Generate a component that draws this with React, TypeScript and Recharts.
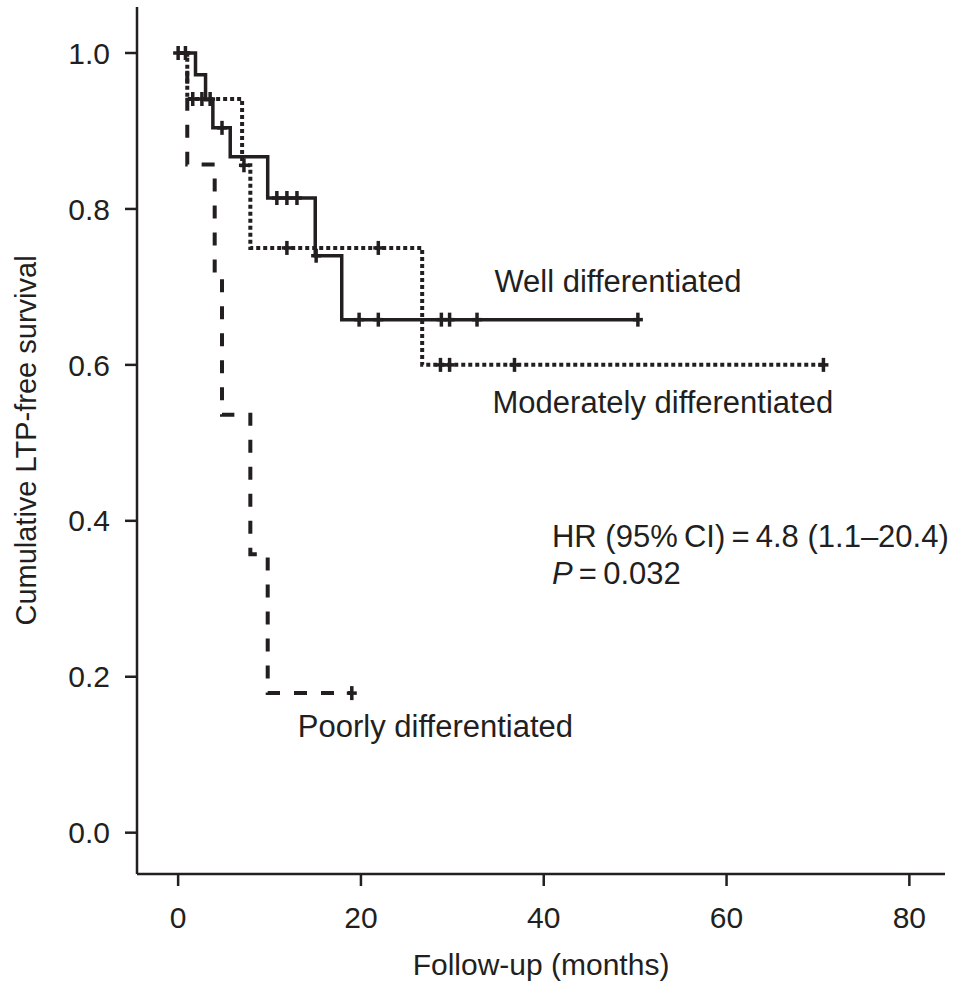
import React from 'react';
import {
  ComposedChart,
  Line,
  Scatter,
  XAxis,
  YAxis,
  ReferenceDot,
} from 'recharts';

const INK = '#231f20';
const FONT = '"Liberation Sans", Arial, Helvetica, sans-serif';

// Kaplan-Meier steps: month of each drop and survival right after it
const wellTimes = [0, 1.9, 3.0, 3.8, 5.7, 9.8, 15.0, 17.9, 50.3];
const wellSurv = [1.0, 0.972, 0.94, 0.904, 0.867, 0.814, 0.74, 0.658, 0.658];
const wellCensored = [0.0, 0.8, 4.8, 10.8, 11.9, 13.0, 15.1, 19.8, 21.9, 28.8, 29.7, 32.7, 50.3];

const modTimes = [0, 1.0, 7.0, 7.9, 26.7, 70.6];
const modSurv = [1.0, 0.941, 0.856, 0.75, 0.6, 0.6];
const modCensored = [1.6, 2.6, 3.5, 7.2, 11.9, 21.9, 28.7, 29.7, 36.8, 70.6];

const poorTimes = [0, 1.0, 4.0, 4.8, 7.9, 9.8, 19.0];
const poorSurv = [1.0, 0.857, 0.714, 0.536, 0.357, 0.179, 0.179];
const poorCensored = [19.0];

const xTicks = [0, 20, 40, 60, 80];
const yTicks = [0, 0.2, 0.4, 0.6, 0.8, 1.0];

type Seg = { text: string; italic?: boolean };

const annotations: { key: string; t: number; s: number; lines: Seg[][] }[] = [
  { key: 'well', t: 34.6, s: 0.694, lines: [[{ text: 'Well differentiated' }]] },
  { key: 'mod', t: 34.4, s: 0.538, lines: [[{ text: 'Moderately differentiated' }]] },
  { key: 'poor', t: 13.1, s: 0.123, lines: [[{ text: 'Poorly differentiated' }]] },
  {
    key: 'hr',
    t: 40.9,
    s: 0.367,
    lines: [
      [{ text: 'HR (95%\u2009CI)\u2009=\u20094.8 (1.1\u201320.4)' }],
      [{ text: 'P', italic: true }, { text: '\u2009=\u20090.032' }],
    ],
  },
];

const toSteps = (times: number[], surv: number[]) =>
  times.map((t, i) => ({ t, s: surv[i] }));

// survival value of a curve at month t (for placing censor ticks on it)
const survivalAt = (times: number[], surv: number[], t: number) => {
  let v = surv[0];
  times.forEach((tt, i) => {
    if (tt <= t) v = surv[i];
  });
  return v;
};

const toCensors = (cens: number[], times: number[], surv: number[]) =>
  cens.map((t) => ({ t, s: survivalAt(times, surv, t) }));

const series = [
  {
    name: 'Well differentiated',
    steps: toSteps(wellTimes, wellSurv),
    censors: toCensors(wellCensored, wellTimes, wellSurv),
    dash: undefined as string | undefined,
    width: 3.5,
  },
  {
    name: 'Moderately differentiated',
    steps: toSteps(modTimes, modSurv),
    censors: toCensors(modCensored, modTimes, modSurv),
    dash: '4 3',
    width: 4,
  },
  {
    name: 'Poorly differentiated',
    steps: toSteps(poorTimes, poorSurv),
    censors: toCensors(poorCensored, poorTimes, poorSurv),
    dash: '13 14',
    width: 4,
  },
];

const CensorMark = (props: any) => {
  const { cx, cy } = props;
  if (cx == null || cy == null) return null;
  return (
    <g>
      <line x1={cx} x2={cx} y1={cy - 7} y2={cy + 7} stroke={INK} strokeWidth={3.5} />
      <line x1={cx - 5} x2={cx + 5} y1={cy} y2={cy} stroke={INK} strokeWidth={3.5} />
    </g>
  );
};

const renderAnnotation = (lines: Seg[][]) => (props: any) => {
  const vb = props.viewBox || {};
  const x = vb.x + (vb.width || 0) / 2;
  const y = vb.y + (vb.height || 0) / 2;
  return (
    <text x={x} y={y} fill={INK} fontSize={31} fontFamily={FONT}>
      {lines.map((line, i) => (
        <tspan key={i} x={x} dy={i === 0 ? 0 : 37}>
          {line.map((seg, j) => (
            <tspan key={j} fontStyle={seg.italic ? 'italic' : 'normal'}>
              {seg.text}
            </tspan>
          ))}
        </tspan>
      ))}
    </text>
  );
};

export default function App() {
  return (
    <div style={{ position: 'absolute', left: 0, top: 0, fontFamily: FONT }}>
      <ComposedChart
        width={965}
        height={983}
        margin={{ top: 7, right: 20, bottom: 0, left: 0 }}
      >
        <XAxis
          type="number"
          dataKey="t"
          domain={[-4.5, 83.9]}
          allowDataOverflow
          ticks={xTicks}
          interval={0}
          height={109}
          tickSize={12}
          tickMargin={21}
          axisLine={{ stroke: INK, strokeWidth: 2.5 }}
          tickLine={{ stroke: INK, strokeWidth: 2.5 }}
          tick={{ fill: INK, fontSize: 30, fontFamily: FONT }}
          label={{
            value: 'Follow-up (months)',
            position: 'insideBottom',
            offset: 8,
            fill: INK,
            fontSize: 30,
            fontFamily: FONT,
          }}
        />
        <YAxis
          type="number"
          domain={[-0.053, 1.059]}
          allowDataOverflow
          ticks={yTicks}
          interval={0}
          width={137}
          tickSize={12}
          tickMargin={15}
          tickFormatter={(v: number) => v.toFixed(1)}
          axisLine={{ stroke: INK, strokeWidth: 2.5 }}
          tickLine={{ stroke: INK, strokeWidth: 2.5 }}
          tick={{ fill: INK, fontSize: 30, fontFamily: FONT }}
          label={{
            value: 'Cumulative LTP-free survival',
            angle: -90,
            position: 'insideLeft',
            offset: 26,
            fill: INK,
            fontSize: 29,
            fontFamily: FONT,
            style: { textAnchor: 'middle' },
          }}
        />
        {series.map((s) => (
          <Line
            key={s.name}
            name={s.name}
            data={s.steps}
            dataKey="s"
            type="stepAfter"
            stroke={INK}
            strokeWidth={s.width}
            strokeDasharray={s.dash}
            dot={false}
            activeDot={false}
            isAnimationActive={false}
          />
        ))}
        {series.map((s) => (
          <Scatter
            key={`${s.name}-censor`}
            data={s.censors}
            dataKey="s"
            shape={CensorMark}
            isAnimationActive={false}
          />
        ))}
        {annotations.map((a) => (
          <ReferenceDot
            key={a.key}
            x={a.t}
            y={a.s}
            r={0}
            fill="none"
            stroke="none"
            label={{ content: renderAnnotation(a.lines) }}
          />
        ))}
      </ComposedChart>
    </div>
  );
}
